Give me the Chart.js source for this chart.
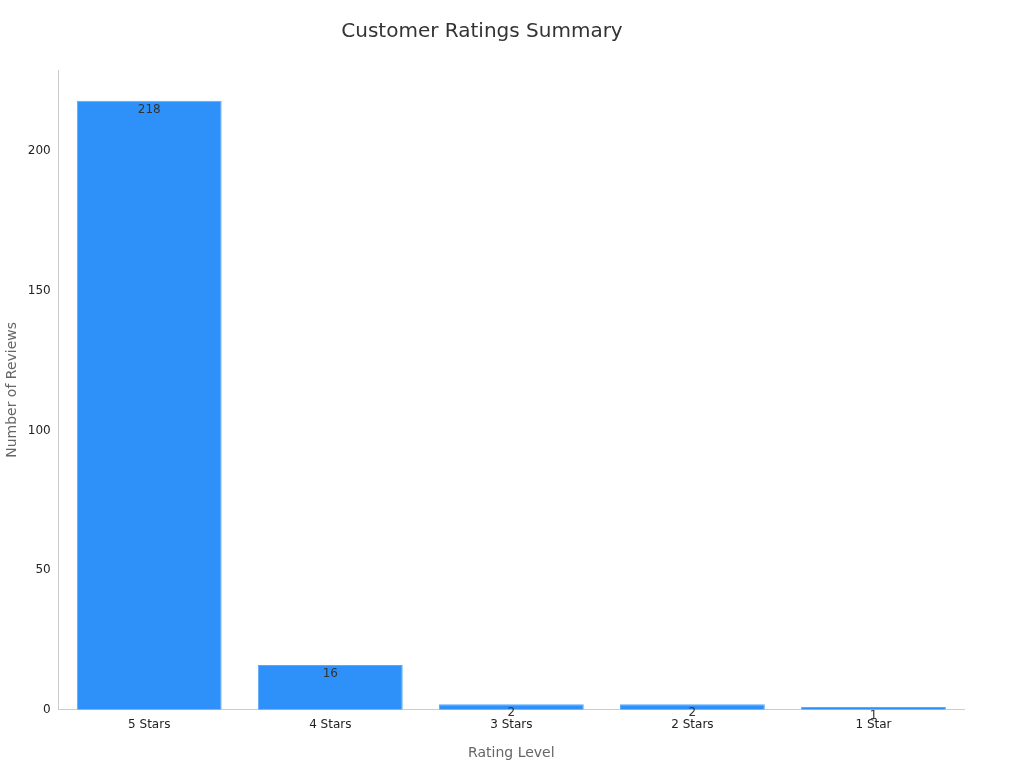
<!DOCTYPE html>
<html><head><meta charset="utf-8">
<script src="https://cdn.jsdelivr.net/npm/chart.js@4"></script>
<style>html,body{margin:0;padding:0;background:#fff}#w{width:1024px;height:768px}</style>
</head><body><div id="w"><canvas id="c"></canvas></div>
<script>
const categories = ["5 Stars","4 Stars","3 Stars","2 Stars","1 Star"];
const reviewCounts = [218,16,2,2,1];
const yTicks = [0,50,100,150,200];

const labelPlugin = {
  id:'lbl',
  afterDatasetsDraw(chart){
    const ctx=chart.ctx, meta=chart.getDatasetMeta(0);
    ctx.save();
    ctx.font='12px "DejaVu Sans"';ctx.fillStyle='#333';ctx.textAlign='center';ctx.textBaseline='top';
    meta.data.forEach((b,i)=>{ctx.fillText(String(reviewCounts[i]), b.x, b.y+3);});
    ctx.restore();
  }
};
Chart.defaults.font.family='"DejaVu Sans"';
new Chart(document.getElementById('c'),{
  type:'bar',
  data:{labels:categories,datasets:[{data:reviewCounts,backgroundColor:'#2e91fa',borderColor:'#5aa8fb',borderWidth:1,categoryPercentage:0.8,barPercentage:1}]},
  options:{
    responsive:true,maintainAspectRatio:false,animation:false,
    layout:{padding:{left:0,right:60,top:10,bottom:2}},
    plugins:{legend:{display:false},tooltip:{enabled:false},
      title:{display:true,text:'Customer Ratings Summary',color:'#333',font:{size:20,weight:'normal'},padding:{top:10,bottom:26}}},
    scales:{
      x:{grid:{display:false,drawTicks:true,tickLength:5},border:{color:'#ccc'},
        ticks:{color:'#222',font:{size:12}},
        title:{display:true,text:'Rating Level',color:'#666',font:{size:14},padding:{top:10}}},
      y:{min:0,max:229,grid:{display:false,tickLength:5},border:{color:'#ccc'},
        afterBuildTicks(s){s.ticks=yTicks.map(v=>({value:v}));},
        ticks:{color:'#222',font:{size:12}},
        title:{display:true,text:'Number of Reviews',color:'#666',font:{size:14}}}
    }
  },
  plugins:[labelPlugin]
});
</script></body></html>
